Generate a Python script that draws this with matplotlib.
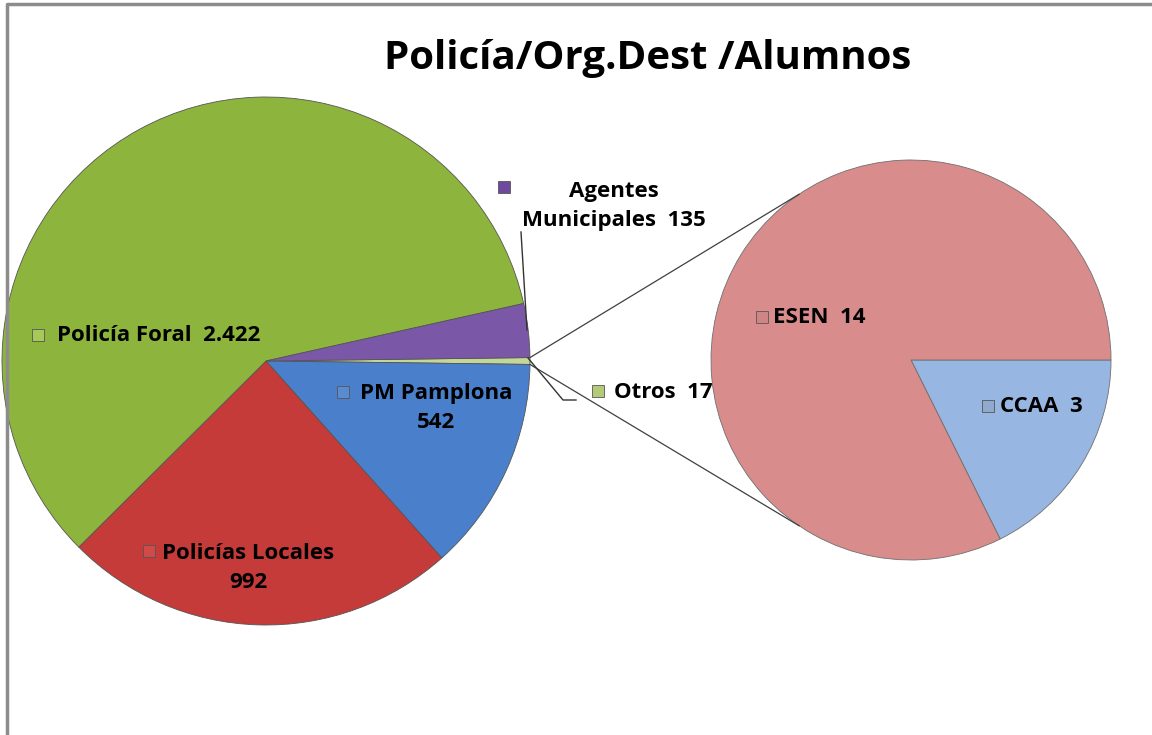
import matplotlib.pyplot as plt
import numpy as np

# main pie data (clockwise from 3 o'clock)
main_labels = ["Otros", "PM Pamplona", "Policías Locales", "Policía Foral", "Agentes\nMunicipales"]
main_values = [17, 542, 992, 2422, 135]
main_colors = ["#c4d79b", "#4a7fcb", "#c43b3a", "#8db43c", "#7b57a8"]

# secondary pie ("Otros" split)
sub_labels = ["CCAA", "ESEN"]
sub_values = [3, 14]
sub_colors = ["#98b6e2", "#d98c8c"]

W, H = 1152, 735
fig = plt.figure(figsize=(W / 100, H / 100), dpi=100)
ax = fig.add_axes([0, 0, 1, 1])

# chart border
ax.plot([7, 7, W], [0, H - 4, H - 4], color="#8c8c8c", lw=2.5)

c1 = (266, H - 361)
r1 = 264
c2 = (911, H - 360)
r2 = 200

half = main_values[0] / sum(main_values) * 360 / 2
ax.pie(main_values, colors=main_colors, startangle=half, counterclock=False,
       center=c1, radius=r1, frame=True,
       wedgeprops=dict(edgecolor="#555555", linewidth=0.6))
ax.pie(sub_values, colors=sub_colors, startangle=0, counterclock=False,
       center=c2, radius=r2, frame=True,
       wedgeprops=dict(edgecolor="#6f6f6f", linewidth=0.6))
ax.set_xlim(0, W)
ax.set_ylim(0, H)
ax.set_aspect("equal")
ax.axis("off")

# connector lines between the two pies
for sgn in (1, -1):
    a1 = np.radians(sgn * half)
    a2 = np.radians(sgn * 124)
    ax.plot([c1[0] + r1 * np.cos(a1), c2[0] + r2 * np.cos(a2)],
            [c1[1] + r1 * np.sin(a1), c2[1] + r2 * np.sin(a2)],
            color="#404040", lw=0.9)

# leader lines for small slices
ax.plot([521, 527], [H - 232, H - 330], color="#333333", lw=1)
ax.plot([528, 563, 576], [H - 358, H - 400, H - 400], color="#333333", lw=1)

fam = ["Open Sans", "DejaVu Sans"]
ax.text(648, H - 58, "Policía/Org.Dest /Alumnos", ha="center", va="center",
        fontsize=29, fontweight="bold", family=fam, color="black")


def key(x, y, color):
    ax.plot(x, H - y, marker="s", ms=8.5, mfc=color, mec="#555555", mew=0.6)


def lab(x, y, s, ha="left"):
    ax.text(x, H - y, s, ha=ha, va="center", fontsize=16, fontweight="bold",
            family=fam, color="black", linespacing=1.45)


vals = dict(zip(main_labels, main_values))
key(38, 335, "#a6c95a")
lab(57, 335, "Policía Foral  {:,}".format(vals["Policía Foral"]).replace(",", "."))
key(504, 187, "#6f4a9c")
lab(614, 206, "Agentes\nMunicipales  {}".format(vals["Agentes\nMunicipales"]), ha="center")
key(343, 392, "#5a8bd0")
lab(436, 408, "PM Pamplona\n{}".format(vals["PM Pamplona"]), ha="center")
key(149, 551, "#d24a48")
lab(248, 568, "Policías Locales\n{}".format(vals["Policías Locales"]), ha="center")
key(598, 391, "#b3ca78")
lab(614, 392, "Otros  {}".format(vals["Otros"]))
sv = dict(zip(sub_labels, sub_values))
key(762, 317, "#cf8585")
lab(773, 317, "ESEN  {}".format(sv["ESEN"]))
key(988, 406, "#8fa9cf")
lab(1000, 406, "CCAA  {}".format(sv["CCAA"]))

fig.savefig("out.png", dpi=100)
